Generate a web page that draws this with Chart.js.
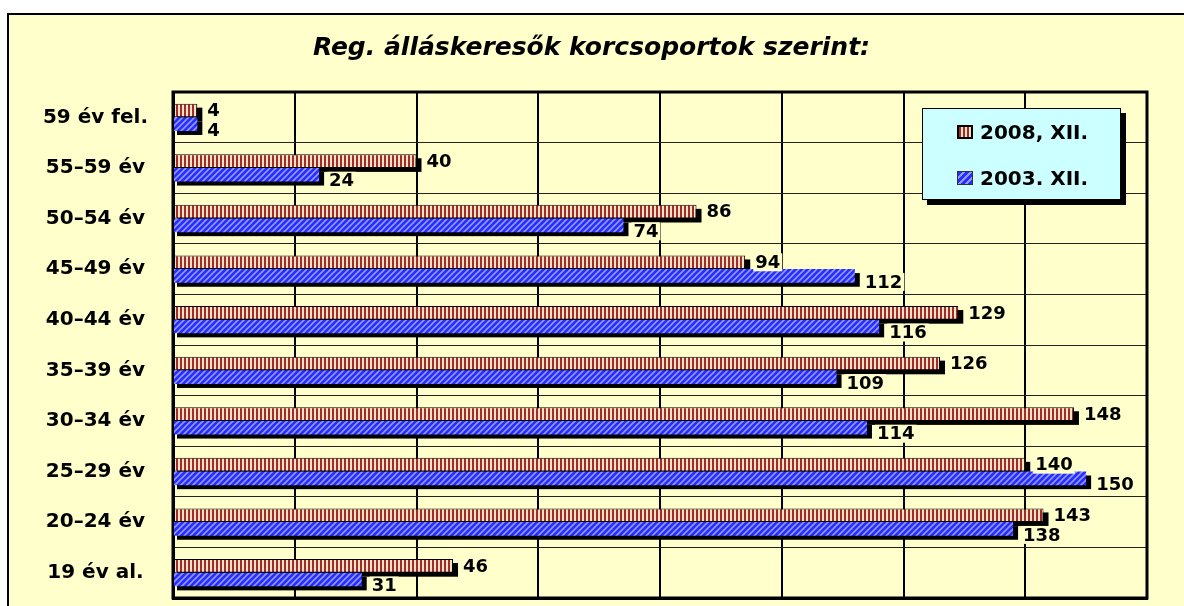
<!DOCTYPE html>
<html lang="hu">
<head>
  <meta charset="UTF-8" />
  <title>Reg. álláskeresők korcsoportok szerint</title>
  <script src="https://cdn.jsdelivr.net/npm/chart.js"></script>
  <style>
    body {
      margin: 0;
      background: #fff;
      width: 1184px;
      height: 606px;
      overflow: hidden;
      position: relative;
      font-family: "DejaVu Sans", Arial, sans-serif;
    }
    .panel {
      position: absolute;
      left: 7px;
      top: 13px;
      width: 1200px;
      height: 620px;
      background: #ffffcc;
      border: 2px solid #000;
    }
    #chart {
      position: absolute;
      left: 0;
      top: 0;
    }
    .legend {
      position: absolute;
      left: 922px;
      top: 108px;
      width: 197px;
      height: 90px;
      background: #ccffff;
      border: 1px solid #000;
      box-shadow: 5px 5px 0 #000;
    }
    .legend .item {
      position: absolute;
      left: 34px;
      font-weight: bold;
      font-size: 20px;
      line-height: 20px;
      white-space: nowrap;
    }
    .legend .sw {
      display: inline-block;
      width: 12px;
      height: 10px;
      border: 2px solid #000;
      margin-right: 7px;
      vertical-align: 0px;
    }
    .sw.red {
      background: repeating-linear-gradient(90deg, #a32a2a 0 2px, #f4e4c4 2px 4px);
    }
    .sw.blue {
      border-color: #333;
      border-width: 1px;
      width: 14px;
      height: 12px;
      background: repeating-linear-gradient(135deg, #2b2bff 0 3px, #8a9cff 3px 5px);
    }
  </style>
</head>
<body>
  <div class="panel"></div>
  <canvas id="chart" width="1184" height="606"></canvas>
  <div class="legend">
    <div class="item" style="top:13px;"><span class="sw red"></span>2008, XII.</div>
    <div class="item" style="top:59px;"><span class="sw blue"></span>2003. XII.</div>
  </div>

  <script>
    const titleText = "Reg. álláskeresők korcsoportok szerint:";
    const ageGroups = ["59 év fel.", "55–59 év", "50–54 év", "45–49 év", "40–44 év",
                       "35–39 év", "30–34 év", "25–29 év", "20–24 év", "19 év al."];
    const seriesNames = ["2008, XII.", "2003. XII."];
    const values2008 = [4, 40, 86, 94, 129, 126, 148, 140, 143, 46];
    const values2003 = [4, 24, 74, 112, 116, 109, 114, 150, 138, 31];
    const xMin = 0, xMax = 160, xStep = 20;

    const FONT = "'DejaVu Sans', Arial, sans-serif";
    const cream = "#ffffcc";

    // striped fills like the old spreadsheet patterns
    function redPattern() {
      const c = document.createElement("canvas");
      c.width = 4; c.height = 4;
      const g = c.getContext("2d");
      g.fillStyle = "#a32a2a";
      g.fillRect(0, 0, 4, 4);
      g.fillStyle = "#f4e4c4";
      g.fillRect(2, 0, 2, 4);
      return g.createPattern(c, "repeat");
    }

    function bluePattern() {
      const c = document.createElement("canvas");
      c.width = 6; c.height = 6;
      const g = c.getContext("2d");
      g.fillStyle = "#2b2bff";
      g.fillRect(0, 0, 6, 6);
      g.strokeStyle = "#8a9cff";
      g.lineWidth = 1.6;
      g.beginPath();
      g.moveTo(-1, 7); g.lineTo(7, -1);
      g.moveTo(-4, 4); g.lineTo(4, -4);
      g.moveTo(2, 10); g.lineTo(10, 2);
      g.stroke();
      return g.createPattern(c, "repeat");
    }

    // frame round the plot, black drop shadows behind bars, value labels
    const shadowPlugin = {
      id: "shadows",
      beforeDatasetsDraw(chart) {
        const ctx = chart.ctx;
        const a = chart.chartArea;
        ctx.save();
        ctx.strokeStyle = "#000";
        ctx.lineWidth = 3;
        ctx.strokeRect(a.left, a.top, a.right - a.left, a.bottom - a.top);
        ctx.fillStyle = "#000";
        chart.data.datasets.forEach((ds, i) => {
          chart.getDatasetMeta(i).data.forEach(el => {
            const p = el.getProps(["x", "y", "base", "height"], true);
            ctx.fillRect(p.base + 3, p.y - p.height / 2 + 4, p.x - p.base + 2, p.height);
          });
        });
        ctx.restore();
      },
      afterDatasetsDraw(chart) {
        const ctx = chart.ctx;
        ctx.save();
        ctx.font = "bold 18px " + FONT;
        ctx.textBaseline = "middle";
        ctx.textAlign = "left";
        chart.data.datasets.forEach((ds, i) => {
          chart.getDatasetMeta(i).data.forEach((el, j) => {
            const p = el.getProps(["x", "y"], true);
            const txt = String(ds.data[j]);
            const tx = p.x + 10;
            const ty = p.y + (i === 1 ? 6 : 0);
            const w = ctx.measureText(txt).width;
            ctx.fillStyle = cream;
            ctx.fillRect(tx - 2, ty - 9, w + 4, 18);
            ctx.fillStyle = "#000";
            ctx.fillText(txt, tx, ty + 1);
          });
        });
        ctx.restore();
      }
    };

    new Chart(document.getElementById("chart"), {
      type: "bar",
      data: {
        labels: ageGroups,
        datasets: [
          {
            label: seriesNames[0],
            data: values2008,
            backgroundColor: redPattern(),
            borderColor: "#000",
            borderWidth: 1,
            borderSkipped: false
          },
          {
            label: seriesNames[1],
            data: values2003,
            backgroundColor: bluePattern(),
            borderWidth: 0
          }
        ]
      },
      options: {
        indexAxis: "y",
        responsive: false,
        animation: false,
        categoryPercentage: 0.54,
        barPercentage: 1,
        layout: { padding: { left: 36, right: 37, top: 0, bottom: 8 } },
        plugins: {
          legend: { display: false },
          tooltip: { enabled: false },
          title: {
            display: true,
            text: titleText,
            color: "#000",
            font: { family: FONT, size: 25, weight: "bold", style: "italic" },
            padding: { top: 33, bottom: 29 }
          }
        },
        scales: {
          x: {
            min: xMin,
            max: xMax,
            ticks: { stepSize: xStep, display: false },
            grid: { color: "#000", lineWidth: 2, drawTicks: false },
            border: { color: "#000", width: 3 },
            afterFit(s) { s.height = 0; }
          },
          y: {
            ticks: {
              color: "#000",
              crossAlign: "center",
              padding: 0,
              font: { family: FONT, size: 20, weight: "bold", lineHeight: 0.8 }
            },
            grid: { color: "#222", lineWidth: 1, drawTicks: true, tickLength: 25, tickColor: "rgba(0,0,0,0)" },
            border: { color: "#000", width: 3 },
            afterFit(s) { s.width = 137; }
          }
        }
      },
      plugins: [shadowPlugin]
    });
  </script>
</body>
</html>
